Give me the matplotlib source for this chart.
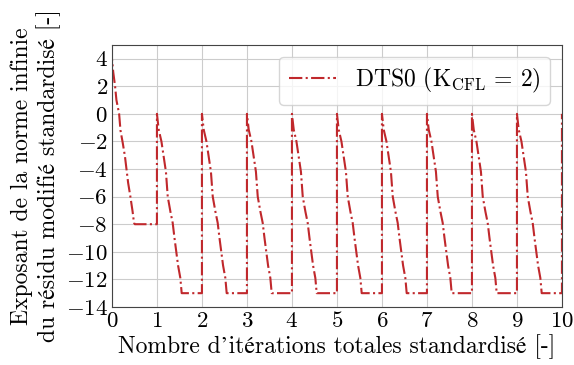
import numpy as np
import matplotlib
matplotlib.use("Agg")
import matplotlib.pyplot as plt

plt.rcParams['font.family'] = ['cmr10', 'STIXGeneral', 'DejaVu Serif']
plt.rcParams['mathtext.fontset'] = 'cm'
plt.rcParams['axes.formatter.use_mathtext'] = True

# premier cycle : part de 4, descend jusqu'a -8
x_first = [0.0, 0.0, 0.03, 0.07, 0.10, 0.16, 0.19, 0.24, 0.29, 0.33, 0.36, 0.41, 0.46, 0.49, 0.51, 1.0]
y_first = [0, 4, 3.0, 2.0, 1.0, 0.0, -1.2, -2.1, -3.1, -4.2, -5.0, -6.0, -7.1, -7.9, -8.0, -8.0]

# cycles suivants : part de 0, descend jusqu'a -13 (decalage dans le cycle)
dx_cycle = [0.0, 0.04, 0.10, 0.15, 0.20, 0.24, 0.30, 0.35, 0.39, 0.47, 0.52, 0.55, 1.0]
y_cycle = [0, -1.15, -2.0, -3.1, -4.2, -6.0, -7.1, -7.9, -9.0, -11.0, -11.9, -13.0, -13.0]
cycle_starts = [1, 2, 3, 4, 5, 6, 7, 8, 9]
y_end = [-13, 0]

xs = list(x_first)
ys = list(y_first)
for c in cycle_starts:
    xs += [c + d for d in dx_cycle]
    ys += list(y_cycle)
xs += [10, 10]
ys += y_end

fig = plt.figure(figsize=(5.74, 3.65), dpi=100)
ax = fig.add_axes([0.195, 0.159, 0.784, 0.718])
ax.plot(xs, ys, linestyle='-.', color='#c0282c', lw=1.5,
        label=r'DTS0 ($\mathrm{K_{CFL}}$ = 2)')
ax.set_xlim(0, 10)
ax.set_ylim(-14, 5)
ax.set_xticks(range(0, 11))
ax.set_yticks(range(-14, 5, 2))
ax.grid(True, color='#cccccc', lw=0.8)
ax.tick_params(labelsize=16.5, length=0, pad=3)
for s in ax.spines.values():
    s.set_color('#444444')
ax.set_xlabel('Nombre d’itérations totales standardisé [-]', fontsize=17, labelpad=2)
ax.set_ylabel('Exposant de la norme infinie\ndu résidu modifié standardisé [-]', fontsize=17, labelpad=3)
ax.legend(loc='upper right', fontsize=17, handlelength=2.0, borderaxespad=0.5)
fig.savefig('out.png', dpi=100)
